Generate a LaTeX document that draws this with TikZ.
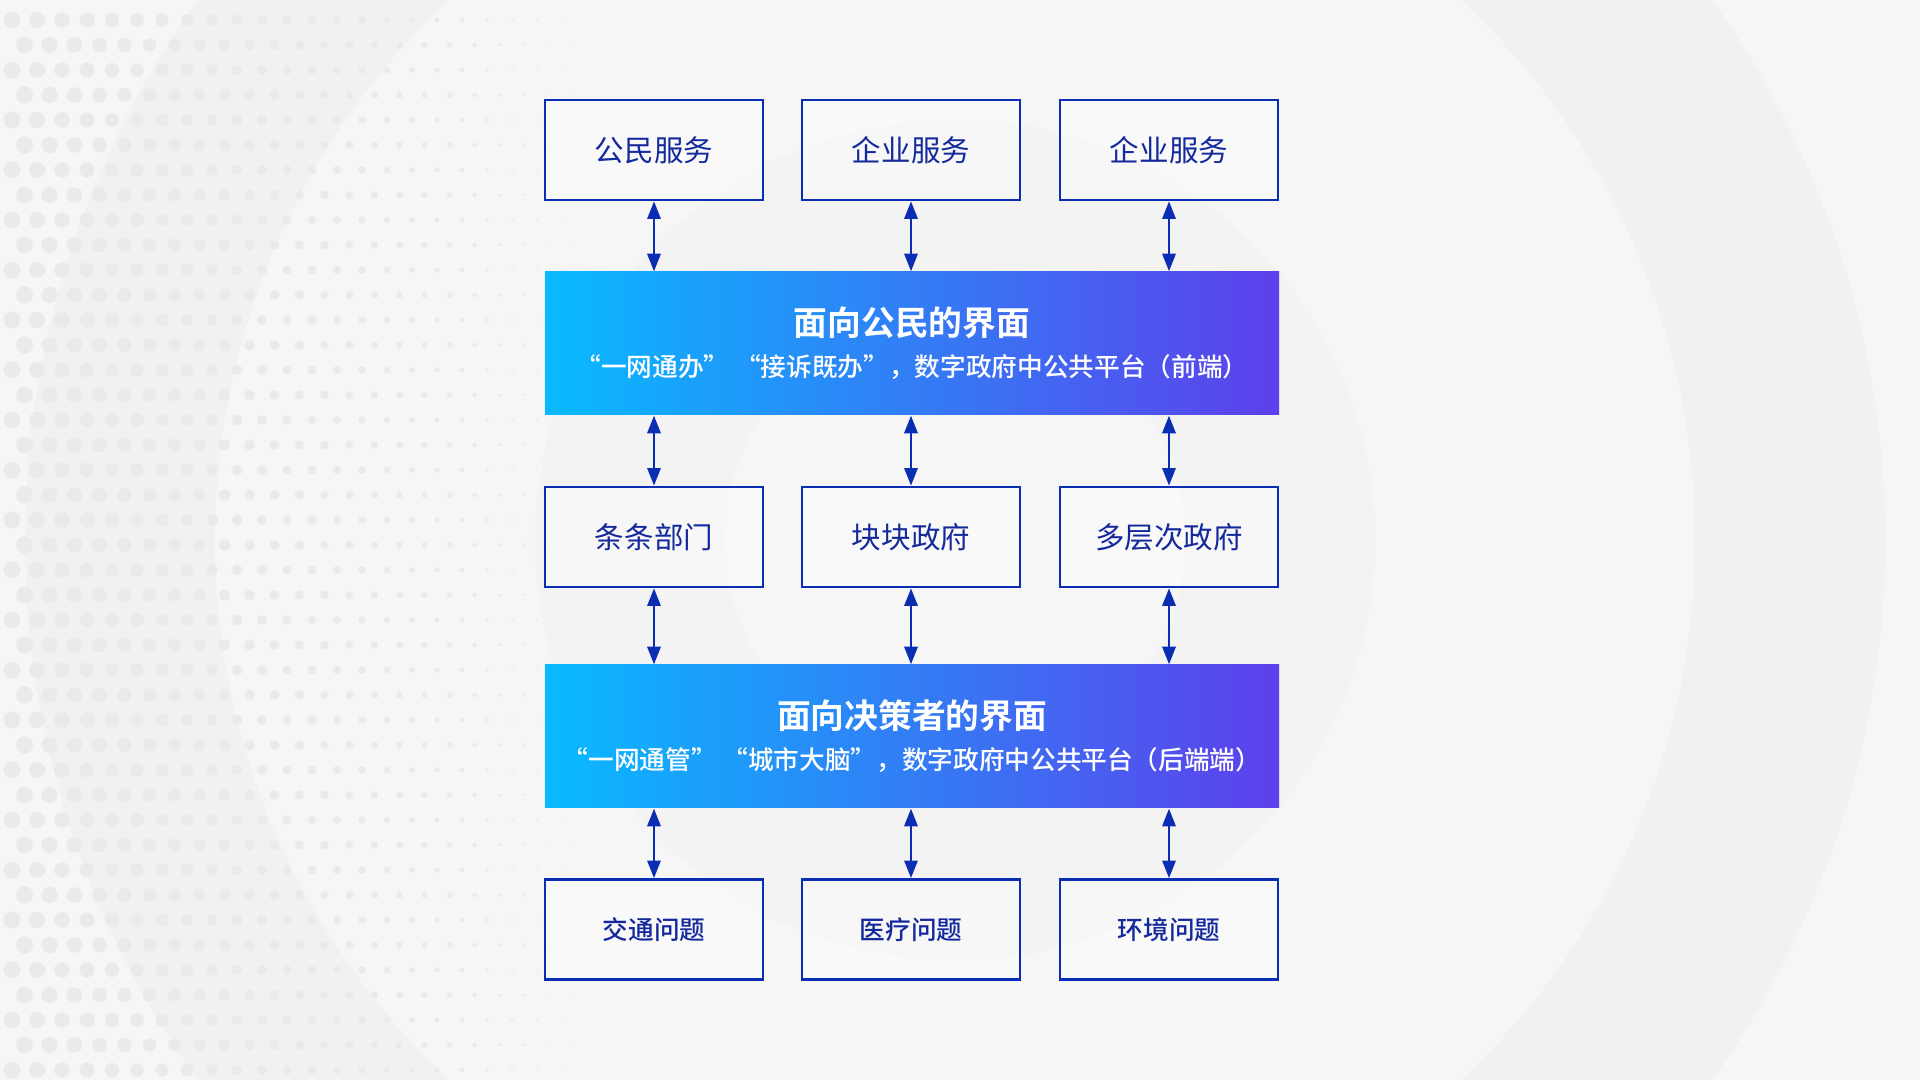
\documentclass[tikz,border=0pt]{standalone}
\usepackage{fontspec}
\setmainfont{Noto Sans CJK SC}[BoldFont={Noto Sans CJK SC Bold}]
\newfontfamily\cjkmedium{Noto Sans CJK SC Medium}
\usepackage{tikz}
\usetikzlibrary{arrows.meta,positioning,calc}
\definecolor{govblue}{HTML}{0B2DB3}
\definecolor{govtext}{HTML}{14299C}
\definecolor{bandcyan}{HTML}{08BAFF}
\definecolor{bandviolet}{HTML}{5D40EB}
\definecolor{bgpaper}{HTML}{F6F6F6}
\definecolor{bgring}{HTML}{F1F1F1}
\definecolor{bgdot}{HTML}{EAEAEA}
\tikzset{
  >={Triangle[length=5pt,width=3.8pt]},
  % rutor
  svc/.style={rectangle,draw=govblue,fill=white,fill opacity=0.35,text opacity=1,
              line width=0.8pt,minimum width=2.18cm,minimum height=1cm,
              inner sep=0pt,text=govtext,font=\fontsize{8.4pt}{10pt}\selectfont},
  issue/.style={svc,font=\cjkmedium\fontsize{7.3pt}{9pt}\selectfont},
  band/.style={rectangle,minimum width=7.34cm,minimum height=1.43cm,inner sep=0pt,
               left color=bandcyan,right color=bandviolet},
  bandtitle/.style={text=white,font=\bfseries\fontsize{9.6pt}{11pt}\selectfont,inner sep=0pt},
  bandsub/.style={text=white,font=\cjkmedium\fontsize{7.3pt}{9pt}\selectfont,inner sep=0pt},
  link/.style={<->,draw=govblue,line width=0.6pt},
}
\begin{document}
\begin{tikzpicture}
\useasboundingbox (0,0) rectangle (19.2,10.8);
  % bakgrund
  \fill[bgpaper] (0,0) rectangle (19.2,10.8);
  \begin{scope}
    \clip (0,0) rectangle (19.2,10.8);
    \fill[bgring] (9.55,5.4) circle (9.3);
    \fill[bgpaper] (9.55,5.4) circle (7.4);
    \fill[bgring!60!bgpaper] (9.55,5.4) circle (4.2);
    \fill[bgpaper] (9.55,5.4) circle (2.3);
    \foreach \i in {0,...,22}
      \foreach \j in {0,...,42}
        \fill[bgdot] ({0.12+\i*0.25+mod(\j,2)*0.125},{0.1+\j*0.25}) circle ({0.085-\i*0.0035});
  \end{scope}
  % tjänster
  \node[svc] (cit) at (6.54,9.30) {公民服务};
  \node[svc] (ent) at (9.11,9.30) {企业服务};
  \node[svc] (ent2) at (11.69,9.30) {企业服务};
  % gränssnitt mot medborgare
  \node[band] (front) at (9.12,7.365) {};
  \node[bandtitle] (frontt) at ([yshift=0.205cm]front.center) {面向公民的界面};
  \node[bandsub] (fronts) at ([yshift=-0.235cm]front.center) {“一网通办” “接诉既办”，数字政府中公共平台（前端）};
  % förvaltning
  \node[svc] (dept) at (6.54,5.43) {条条部门};
  \node[svc] (local) at (9.11,5.43) {块块政府};
  \node[svc] (multi) at (11.69,5.43) {多层次政府};
  % gränssnitt mot beslutsfattare
  \node[band] (back) at (9.12,3.435) {};
  \node[bandtitle] (backt) at ([yshift=0.205cm]back.center) {面向决策者的界面};
  \node[bandsub] (backs) at ([yshift=-0.235cm]back.center) {“一网通管” “城市大脑”，数字政府中公共平台（后端端）};
  % problem
  \node[issue] (traffic) at (6.54,1.505) {交通问题};
  \node[issue] (health) at (9.11,1.505) {医疗问题};
  \node[issue] (env) at (11.69,1.505) {环境问题};
  % pilar
  \foreach \t/\m/\b in {cit/dept/traffic,ent/local/health,ent2/multi/env} {
    \draw[link] (\t.south) -- (\t.south |- front.north);
    \draw[link] (\m.north |- front.south) -- (\m.north);
    \draw[link] (\m.south) -- (\m.south |- back.north);
    \draw[link] (\b.north |- back.south) -- (\b.north);
  }
\end{tikzpicture}
\end{document}
